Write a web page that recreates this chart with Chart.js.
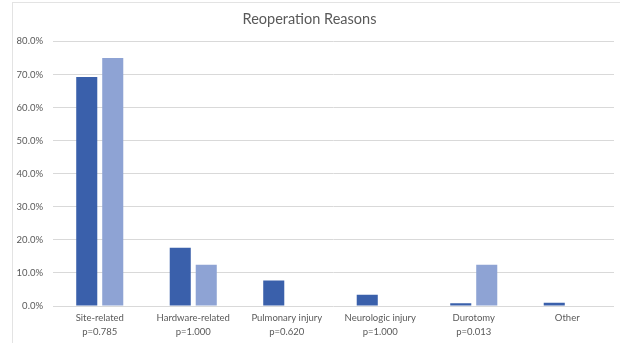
<!DOCTYPE html>
<html>
<head>
<meta charset="utf-8">
<script src="https://cdn.jsdelivr.net/npm/chart.js"></script>
<style>
  html, body { margin: 0; padding: 0; background: #fff; }
  #frame {
    position: absolute; left: 12px; top: 2px; width: 608px; height: 341px;
    border-left: 1px solid #e3e3e3; border-top: 1px solid #e3e3e3;
  }
  #wrap { position: absolute; left: 0; top: 0; width: 620px; height: 343px; }
</style>
</head>
<body>
<div id="frame"></div>
<div id="wrap"><canvas id="chart"></canvas></div>
<script>
// 数据
const categories = [
    ['Site-related', 'p=0.785'],
    ['Hardware-related', 'p=1.000'],
    ['Pulmonary injury', 'p=0.620'],
    ['Neurologic injury', 'p=1.000'],
    ['Durotomy', 'p=0.013'],
    ['Other']
];
const seriesA = [69.2, 17.6, 7.7, 3.4, 0.8, 1.0];
const seriesB = [75.0, 12.5, 0, 0, 12.5, 0];
const yTicks = [0, 10, 20, 30, 40, 50, 60, 70, 80];

const textColor = '#595959';
const font = 'Lato, "Open Sans", sans-serif';

new Chart(document.getElementById('chart'), {
    type: 'bar',
    data: {
        labels: categories,
        datasets: [
            { label: 'Group 1', data: seriesA, backgroundColor: '#3a60ab' },
            { label: 'Group 2', data: seriesB, backgroundColor: '#8ea3d4' }
        ]
    },
    options: {
        responsive: true,
        maintainAspectRatio: false,
        animation: false,
        layout: { padding: { left: 5, right: 6, top: 4, bottom: 6 } },
        datasets: { bar: { categoryPercentage: 0.556, barPercentage: 0.81 } },
        plugins: {
            legend: { display: false },
            tooltip: { enabled: false },
            title: {
                display: true,
                text: 'Reoperation Reasons',
                color: textColor,
                font: { family: font, size: 14.5, weight: 'normal' },
                padding: { top: 7, bottom: 13 }
            }
        },
        scales: {
            x: {
                grid: { display: false, drawTicks: false },
                border: { display: false },
                afterFit: axis => { axis.height = 31; },
                ticks: {
                    color: textColor,
                    font: { family: font, size: 9.5, lineHeight: 1.45 },
                    maxRotation: 0,
                    autoSkip: false,
                    padding: 5
                }
            },
            y: {
                min: 0,
                max: 80,
                afterBuildTicks: axis => { axis.ticks = yTicks.map(v => ({ value: v })); },
                afterFit: axis => { axis.width = 48; },
                grid: { color: '#d9d9d9', drawTicks: false },
                border: { display: false },
                ticks: {
                    color: textColor,
                    font: { family: font, size: 9.5 },
                    padding: 10,
                    callback: v => v.toFixed(1) + '%'
                }
            }
        }
    }
});
</script>
</body>
</html>
